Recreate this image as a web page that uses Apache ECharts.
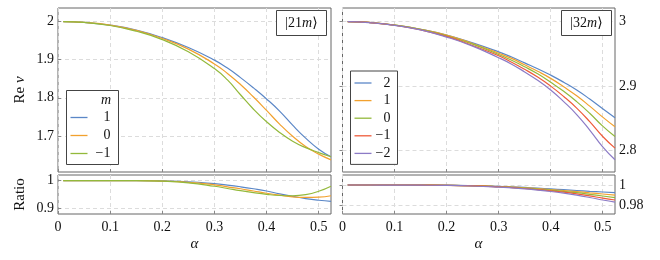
<!DOCTYPE html>
<html><head><meta charset="utf-8">
<script src="https://cdn.jsdelivr.net/npm/echarts@6/dist/echarts.min.js"></script>
<style>html,body{margin:0;padding:0;background:#fff}#c{width:660px;height:260px}</style>
</head><body><div id="c"></div>
<script>
// ---- data ----
const alpha = [0.01, 0.05, 0.1, 0.15, 0.2, 0.25, 0.3, 0.325, 0.35, 0.375, 0.4, 0.425, 0.45, 0.475, 0.5, 0.5236];

// |21m>  Re nu
const re21_m1  = [2.000, 1.998, 1.991, 1.978, 1.958, 1.932, 1.899, 1.878, 1.853, 1.826, 1.797, 1.765, 1.728, 1.694, 1.665, 1.645];
const re21_m0  = [2.000, 1.998, 1.991, 1.977, 1.956, 1.928, 1.889, 1.864, 1.835, 1.802, 1.767, 1.731, 1.699, 1.672, 1.652, 1.637];
const re21_mm1 = [2.000, 1.998, 1.990, 1.975, 1.953, 1.921, 1.877, 1.847, 1.808, 1.770, 1.737, 1.709, 1.686, 1.669, 1.656, 1.645];

// |21m>  ratio
const ratio21_m1  = [1.000, 1.000, 1.000, 1.000, 0.999, 0.996, 0.989, 0.984, 0.978, 0.971, 0.963, 0.953, 0.944, 0.936, 0.930, 0.926];
const ratio21_m0  = [1.000, 1.000, 1.000, 1.000, 0.998, 0.994, 0.985, 0.978, 0.971, 0.963, 0.955, 0.948, 0.942, 0.940, 0.941, 0.946];
const ratio21_mm1 = [1.000, 1.000, 1.000, 1.000, 0.998, 0.992, 0.980, 0.972, 0.964, 0.957, 0.951, 0.947, 0.946, 0.950, 0.962, 0.980];

// |32m>  Re nu
const re32_m2  = [3.000, 2.9986, 2.9946, 2.988, 2.979, 2.967, 2.953, 2.945, 2.936, 2.927, 2.917, 2.906, 2.894, 2.880, 2.865, 2.851];
const re32_m1  = [3.000, 2.9986, 2.9945, 2.988, 2.979, 2.966, 2.951, 2.943, 2.933, 2.923, 2.912, 2.899, 2.885, 2.869, 2.852, 2.837];
const re32_m0  = [3.000, 2.9986, 2.9944, 2.988, 2.978, 2.965, 2.949, 2.940, 2.930, 2.919, 2.906, 2.892, 2.876, 2.858, 2.838, 2.822];
const re32_mm1 = [3.000, 2.9986, 2.9943, 2.987, 2.977, 2.963, 2.947, 2.937, 2.926, 2.914, 2.900, 2.884, 2.866, 2.845, 2.822, 2.804];
const re32_mm2 = [3.000, 2.9985, 2.9942, 2.987, 2.976, 2.962, 2.944, 2.934, 2.922, 2.909, 2.894, 2.876, 2.856, 2.832, 2.806, 2.786];

// |32m>  ratio
const ratio32_m2  = [1.000, 1.000, 1.000, 0.9999, 0.9998, 0.9994, 0.9987, 0.9982, 0.9976, 0.9969, 0.9961, 0.9953, 0.9945, 0.9937, 0.9930, 0.9924];
const ratio32_m1  = [1.000, 1.000, 1.000, 0.9999, 0.9997, 0.9993, 0.9985, 0.9979, 0.9972, 0.9964, 0.9955, 0.9945, 0.9934, 0.9922, 0.9910, 0.9898];
const ratio32_m0  = [1.000, 1.000, 1.000, 0.9999, 0.9997, 0.9992, 0.9983, 0.9977, 0.9969, 0.9960, 0.9949, 0.9937, 0.9923, 0.9907, 0.9890, 0.9873];
const ratio32_mm1 = [1.000, 1.000, 1.000, 0.9999, 0.9997, 0.9991, 0.9981, 0.9974, 0.9965, 0.9954, 0.9942, 0.9928, 0.9911, 0.9891, 0.9868, 0.9850];
const ratio32_mm2 = [1.000, 1.000, 0.9999, 0.9998, 0.9996, 0.9990, 0.9979, 0.9971, 0.9961, 0.9949, 0.9935, 0.9918, 0.9898, 0.9875, 0.9850, 0.9828];

const xTicks = [0, 0.1, 0.2, 0.3, 0.4, 0.5];
const yTicks21 = [1.7, 1.8, 1.9, 2];
const yTicks32 = [2.8, 2.9, 3];
const yTicksR21 = [0.9, 1];
const yTicksR32 = [0.98, 1];
const legend21 = ['1', '0', '\u22121'];
const legend32 = ['2', '1', '0', '\u22121', '\u22122'];

// ---- style ----
const FONT = '"Liberation Serif", "DejaVu Serif", serif';
const C = { blue: '#5b87c7', orange: '#f2a12e', green: '#93b93b', red: '#ef5b3a', purple: '#8c7bc6' };
const cols21 = [C.blue, C.orange, C.green];
const cols32 = [C.blue, C.orange, C.green, C.red, C.purple];

const pairs = ys => alpha.map((a, i) => [a, ys[i]]);

const grids = [
  { left: 58, top: 8, width: 273, height: 164 },
  { left: 342.5, top: 8, width: 272.5, height: 164 },
  { left: 58, top: 175, width: 273, height: 39 },
  { left: 342.5, top: 175, width: 272.5, height: 39 }
].map(g => Object.assign({ show: true, borderColor: '#666', borderWidth: 1, backgroundColor: 'transparent' }, g));

const split = { show: true, lineStyle: { color: '#dcdcdc', type: [4, 3], width: 1 } };
function xAx(gi, showLabel) {
  return {
    type: 'value', gridIndex: gi, min: 0, max: 0.5236,
    axisLine: { show: false },
    axisTick: { show: true, inside: true, length: 3, lineStyle: { color: '#888' }, customValues: xTicks },
    axisLabel: { show: showLabel, customValues: xTicks, margin: 6, color: '#111', fontFamily: FONT, fontSize: 14 },
    splitLine: split
  };
}
function yAx(gi, min, max, ticks, pos) {
  return {
    type: 'value', gridIndex: gi, min: min, max: max, position: pos,
    axisLine: { show: false },
    axisTick: { show: true, inside: true, length: 3, lineStyle: { color: '#888' }, customValues: ticks },
    axisLabel: { show: true, customValues: ticks, margin: 4, color: '#111', fontFamily: FONT, fontSize: 14 },
    splitLine: split
  };
}

const series = [];
function addLine(name, data, color, gi) {
  series.push({
    name: name, type: 'line', xAxisIndex: gi, yAxisIndex: gi,
    data: pairs(data), smooth: true, symbol: 'none', silent: true,
    lineStyle: { color: color, width: 1.2 }, itemStyle: { color: color }
  });
}
[re21_m1, re21_m0, re21_mm1].forEach((d, i) => addLine('a:' + legend21[i], d, cols21[i], 0));
[re32_m2, re32_m1, re32_m0, re32_mm1, re32_mm2].forEach((d, i) => addLine('b:' + legend32[i], d, cols32[i], 1));
[ratio21_m1, ratio21_m0, ratio21_mm1].forEach((d, i) => addLine('ra:' + legend21[i], d, cols21[i], 2));
[ratio32_m2, ratio32_m1, ratio32_m0, ratio32_mm1, ratio32_mm2].forEach((d, i) => addLine('rb:' + legend32[i], d, cols32[i], 3));

const legFmt = n => '{t|' + n.split(':')[1] + '}';
const legendCommon = {
  orient: 'vertical', itemWidth: 17, itemHeight: 14, selectedMode: false,
  borderColor: '#444', borderWidth: 1, backgroundColor: '#fff', borderRadius: 0,
  icon: 'path://M0,0H17V1.3H0Z', symbolKeepAspect: true,
  formatter: legFmt
};

const chart = echarts.init(document.getElementById('c'), null, { renderer: 'canvas' });
chart.setOption({
  animation: false,
  backgroundColor: '#fff',
  grid: grids,
  xAxis: [xAx(0, false), xAx(1, false), xAx(2, true), xAx(3, true)],
  yAxis: [
    yAx(0, 1.605, 2.036, yTicks21, 'left'),
    yAx(1, 2.767, 3.021, yTicks32, 'right'),
    yAx(2, 0.881, 1.02, yTicksR21, 'left'),
    yAx(3, 0.971, 1.01, yTicksR32, 'right')
  ],
  legend: [
    Object.assign({}, legendCommon, {
      data: legend21.map(n => 'a:' + n), left: 66.5, top: 90.5,
      padding: [20, 8, 4, 4], itemGap: 4,
      textStyle: { rich: { t: { width: 18, align: 'right', fontFamily: FONT, fontSize: 14, color: '#111' } } }
    }),
    Object.assign({}, legendCommon, {
      data: legend32.map(n => 'b:' + n), left: 350.5, top: 71,
      padding: [5, 7, 4, 4], itemGap: 3.6,
      textStyle: { rich: { t: { width: 14, align: 'right', fontFamily: FONT, fontSize: 14, color: '#111' } } }
    })
  ],
  graphic: [
    { type: 'text', x: 106, y: 100, z: 100, style: { text: 'm', font: 'italic 14px ' + FONT, fill: '#111', align: 'center', verticalAlign: 'middle' } },
    { type: 'rect', shape: { x: 276.5, y: 10.5, width: 50, height: 25 }, z: 100, style: { fill: '#fff', stroke: '#444', lineWidth: 1 } },
    { type: 'text', x: 301.5, y: 23, z: 101, style: { text: '|21{i|m}\u27E9', font: '14px ' + FONT, fill: '#111', align: 'center', verticalAlign: 'middle', rich: { i: { fontStyle: 'italic', fontFamily: FONT, fontSize: 14 } } } },
    { type: 'rect', shape: { x: 561.5, y: 10.5, width: 50, height: 25 }, z: 100, style: { fill: '#fff', stroke: '#444', lineWidth: 1 } },
    { type: 'text', x: 586.5, y: 23, z: 101, style: { text: '|32{i|m}\u27E9', font: '14px ' + FONT, fill: '#111', align: 'center', verticalAlign: 'middle', rich: { i: { fontStyle: 'italic', fontFamily: FONT, fontSize: 14 } } } },
    { type: 'text', x: 20, y: 90, rotation: Math.PI / 2, z: 100, style: { text: 'Re {i|\u03BD}', font: '15px ' + FONT, fill: '#111', align: 'center', verticalAlign: 'middle', rich: { i: { fontStyle: 'italic', fontFamily: FONT, fontSize: 15 } } } },
    { type: 'text', x: 20, y: 194.5, rotation: Math.PI / 2, z: 100, style: { text: 'Ratio', font: '15px ' + FONT, fill: '#111', align: 'center', verticalAlign: 'middle' } },
    { type: 'text', x: 194.5, y: 244, z: 100, style: { text: '\u03B1', font: 'italic 15px ' + FONT, fill: '#111', align: 'center', verticalAlign: 'middle' } },
    { type: 'text', x: 478.5, y: 244, z: 100, style: { text: '\u03B1', font: 'italic 15px ' + FONT, fill: '#111', align: 'center', verticalAlign: 'middle' } }
  ],
  series: series
});
</script></body></html>
